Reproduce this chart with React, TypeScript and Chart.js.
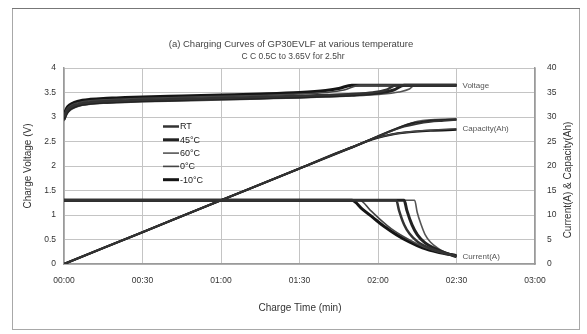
import React, { useEffect, useRef } from "react";
import { Chart, registerables } from "chart.js";
Chart.register(...registerables);

// ---- data (time in minutes) ----
const seriesNames = ["RT", "45°C", "60°C", "0°C", "-10°C"];
const xTickStep = 30; // minutes
const xMax = 180;
const voltageTicks = { min: 0, max: 4, step: 0.5 };
const currentTicks = { min: 0, max: 40, step: 5 };

const rtVoltage = [[0, 3.0], [1, 3.12], [2, 3.18], [4, 3.24], [7, 3.28], [10, 3.3], [15, 3.32], [20, 3.33], [30, 3.35], [45, 3.37], [60, 3.39], [75, 3.41], [90, 3.43], [100, 3.45], [110, 3.47], [118, 3.5], [123, 3.55], [127, 3.65], [150, 3.65]];
const t45Voltage = [[0, 2.95], [1, 3.08], [2, 3.15], [4, 3.21], [7, 3.26], [10, 3.28], [15, 3.3], [20, 3.31], [30, 3.33], [45, 3.35], [60, 3.37], [75, 3.39], [90, 3.41], [100, 3.43], [110, 3.45], [120, 3.49], [126, 3.55], [130, 3.65], [150, 3.65]];
const t60Voltage = [[0, 2.92], [1, 3.05], [2, 3.12], [4, 3.19], [7, 3.24], [10, 3.26], [15, 3.28], [20, 3.29], [30, 3.31], [45, 3.33], [60, 3.35], [75, 3.37], [90, 3.39], [100, 3.41], [110, 3.43], [120, 3.46], [128, 3.51], [132, 3.57], [134, 3.65], [150, 3.65]];
const t0Voltage = [[0, 3.02], [1, 3.15], [2, 3.21], [4, 3.27], [7, 3.31], [10, 3.33], [15, 3.35], [20, 3.36], [30, 3.38], [45, 3.4], [60, 3.42], [75, 3.44], [90, 3.47], [100, 3.5], [107, 3.55], [113, 3.65], [150, 3.65]];
const tm10Voltage = [[0, 3.05], [1, 3.18], [2, 3.24], [4, 3.3], [7, 3.34], [10, 3.36], [15, 3.38], [20, 3.39], [30, 3.41], [45, 3.43], [60, 3.45], [75, 3.47], [90, 3.5], [100, 3.54], [105, 3.58], [110, 3.65], [150, 3.65]];

const rtCurrent = [[0, 13], [127, 13], [128, 11], [130, 8], [132, 6.2], [135, 4.6], [140, 3.2], [145, 2.3], [150, 1.6]];
const t45Current = [[0, 13], [130, 13], [131, 11], [133, 8], [135, 6], [138, 4.3], [142, 3.1], [146, 2.2], [150, 1.5]];
const t60Current = [[0, 13], [134, 13], [135, 10.5], [136.5, 8], [138, 6], [140, 4.5], [143, 3.2], [147, 2.1], [150, 1.5]];
const t0Current = [[0, 13], [113, 13], [117, 11], [121, 9], [125, 7.2], [130, 5.5], [135, 4.1], [140, 3.0], [145, 2.2], [150, 1.6]];
const tm10Current = [[0, 13], [110, 13], [114, 11.2], [118, 9.5], [122, 7.8], [127, 6], [132, 4.5], [137, 3.3], [143, 2.4], [150, 1.7]];

const rtCapacity = [[0, 0], [30, 6.5], [60, 13], [90, 19.5], [110, 23.8], [127, 27.5], [130, 28.0], [135, 28.6], [140, 29.0], [145, 29.2], [150, 29.4]];
const t45Capacity = [[0, 0], [30, 6.5], [60, 13], [90, 19.5], [110, 23.8], [130, 28.2], [133, 28.7], [137, 29.0], [142, 29.3], [150, 29.5]];
const t60Capacity = [[0, 0], [30, 6.5], [60, 13], [90, 19.5], [110, 23.8], [134, 29.0], [137, 29.3], [142, 29.5], [150, 29.6]];
const t0Capacity = [[0, 0], [30, 6.5], [60, 13], [90, 19.5], [105, 22.8], [113, 24.5], [118, 25.5], [123, 26.2], [128, 26.7], [135, 27.1], [143, 27.4], [150, 27.6]];
const tm10Capacity = [[0, 0], [30, 6.5], [60, 13], [90, 19.5], [105, 22.8], [110, 23.8], [115, 24.9], [120, 25.8], [125, 26.4], [130, 26.8], [140, 27.2], [150, 27.4]];

const titleLines = ["(a) Charging Curves of GP30EVLF at various temperature", "C C 0.5C to 3.65V for 2.5hr"];

// ---- styles ----
const FONT = "'Liberation Sans', Arial, sans-serif";
const lineColors = ["#333333", "#222222", "#555555", "#444444", "#151515"];
const lineWidths = [2.5, 3, 1.6, 1.6, 3];

const allVoltage = [rtVoltage, t45Voltage, t60Voltage, t0Voltage, tm10Voltage];
const allCurrent = [rtCurrent, t45Current, t60Current, t0Current, tm10Current];
const allCapacity = [rtCapacity, t45Capacity, t60Capacity, t0Capacity, tm10Capacity];

const toXY = (pairs: number[][]) => pairs.map(([x, y]) => ({ x, y }));
const fmtTime = (v: number) =>
  String(Math.floor(v / 60)).padStart(2, "0") + ":" + String(Math.round(v % 60)).padStart(2, "0");

const customPlugin = {
  id: "customDecor",
  beforeDraw(chart: any) {
    const { ctx, width, height } = chart;
    ctx.save();
    ctx.fillStyle = "#ffffff";
    ctx.fillRect(0, 0, width, height);
    ctx.strokeStyle = "#a8a8a8";
    ctx.lineWidth = 1;
    ctx.strokeRect(12.5, 8.5, 567, 321);
    ctx.strokeStyle = "#777";
    ctx.beginPath();
    ctx.moveTo(12, 8.5);
    ctx.lineTo(580, 8.5);
    ctx.stroke();
    ctx.restore();
  },
  afterDraw(chart: any) {
    const { ctx, scales } = chart;
    const x = scales.x, y = scales.y, y1 = scales.y1;
    ctx.save();
    // title
    ctx.fillStyle = "#444";
    ctx.textAlign = "center";
    ctx.textBaseline = "middle";
    ctx.font = `9.5px ${FONT}`;
    ctx.fillText(titleLines[0], 291, 44);
    ctx.font = `8.5px ${FONT}`;
    ctx.fillText(titleLines[1], 293, 57);
    // axis titles
    ctx.fillStyle = "#333";
    ctx.font = `10px ${FONT}`;
    ctx.fillText("Charge Time (min)", 300, 308);
    ctx.save();
    ctx.translate(28, 166);
    ctx.rotate(-Math.PI / 2);
    ctx.fillText("Charge Voltage (V)", 0, 0);
    ctx.restore();
    ctx.save();
    ctx.translate(568, 180);
    ctx.rotate(-Math.PI / 2);
    ctx.fillText("Current(A) & Capacity(Ah)", 0, 0);
    ctx.restore();
    // curve annotations
    ctx.fillStyle = "#555";
    ctx.font = `8px ${FONT}`;
    ctx.textAlign = "left";
    const xe = x.getPixelForValue(150) + 6;
    ctx.fillText("Voltage", xe, y.getPixelForValue(3.63));
    ctx.fillText("Capacity(Ah)", xe, y1.getPixelForValue(27.5));
    ctx.fillText("Current(A)", xe, y1.getPixelForValue(1.5));
    // legend (voltage datasets only)
    ctx.font = `9px ${FONT}`;
    ctx.fillStyle = "#222";
    const legendSets = chart.data.datasets.filter((d: any) => d.legendEntry);
    legendSets.forEach((d: any, i: number) => {
      const ly = 126.5 + i * 13.3;
      ctx.strokeStyle = d.borderColor;
      ctx.lineWidth = d.borderWidth;
      ctx.beginPath();
      ctx.moveTo(163, ly);
      ctx.lineTo(179, ly);
      ctx.stroke();
      ctx.fillText(d.label, 180, ly + 0.5);
    });
    ctx.restore();
  },
};

export default function App() {
  const ref = useRef<HTMLCanvasElement | null>(null);
  useEffect(() => {
    if (!ref.current) return;
    const datasets: any[] = [];
    seriesNames.forEach((name, i) => {
      const common = {
        borderColor: lineColors[i],
        borderWidth: lineWidths[i],
        pointRadius: 0,
        fill: false,
        cubicInterpolationMode: "monotone",
      };
      datasets.push({ ...common, label: name, legendEntry: true, yAxisID: "y", data: toXY(allVoltage[i]) });
      datasets.push({ ...common, label: name + " current", yAxisID: "y1", data: toXY(allCurrent[i]) });
      datasets.push({ ...common, label: name + " capacity", yAxisID: "y1", borderWidth: Math.max(1.5, lineWidths[i] - 0.8), data: toXY(allCapacity[i]) });
    });
    const tickFont = { family: FONT, size: 8.5 };
    const chart = new Chart(ref.current, {
      type: "line",
      data: { datasets },
      options: {
        animation: false,
        responsive: false,
        maintainAspectRatio: false,
        devicePixelRatio: 1,
        layout: { padding: { top: 68, left: 0, right: 0, bottom: 0 } },
        plugins: { legend: { display: false }, title: { display: false }, tooltip: { enabled: false } },
        scales: {
          x: {
            type: "linear",
            min: 0,
            max: xMax,
            ticks: { stepSize: xTickStep, callback: (v: any) => fmtTime(Number(v)), color: "#333", font: tickFont, padding: 12, maxRotation: 0, autoSkip: false },
            grid: { color: "#c4c4c4", drawTicks: false, lineWidth: 1 },
            border: { color: "#9a9a9a", width: 1.5 },
            afterFit: (s: any) => { s.height = 70; },
          },
          y: {
            position: "left",
            min: voltageTicks.min,
            max: voltageTicks.max,
            ticks: { stepSize: voltageTicks.step, color: "#333", font: tickFont, padding: 8, callback: (v: any) => String(Number(v)) },
            grid: { color: "#c4c4c4", drawTicks: false },
            border: { color: "#9a9a9a", width: 1.5 },
            afterFit: (s: any) => { s.width = 64; },
          },
          y1: {
            position: "right",
            min: currentTicks.min,
            max: currentTicks.max,
            ticks: { stepSize: currentTicks.step, color: "#333", font: tickFont, padding: 12 },
            grid: { drawOnChartArea: false, drawTicks: false },
            border: { color: "#9a9a9a", width: 1.5 },
            afterFit: (s: any) => { s.width = 52; },
          },
        },
      },
      plugins: [customPlugin],
    } as any);
    return () => chart.destroy();
  }, []);
  return (
    <div style={{ position: "fixed", left: 0, top: 0, width: 587, height: 334, background: "#fff" }}>
      <canvas ref={ref} width={587} height={334} style={{ width: 587, height: 334, display: "block" }} />
    </div>
  );
}
